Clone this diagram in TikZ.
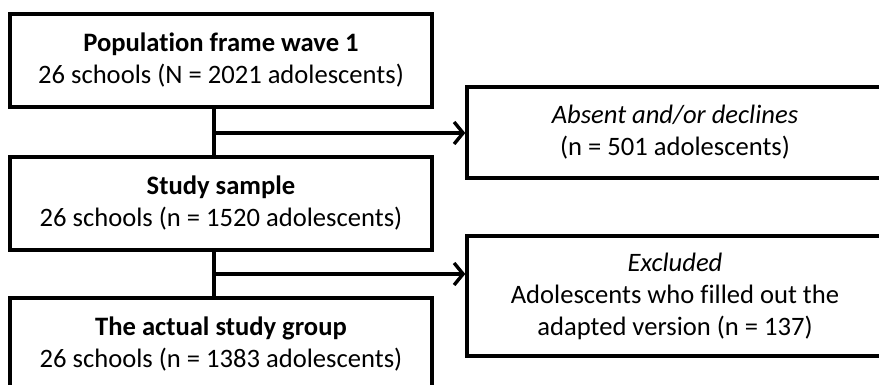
\documentclass[tikz,border=0pt]{standalone}
\usepackage{fontspec}
\setmainfont[RawFeature=-liga]{Carlito}
\usetikzlibrary{arrows.meta}
\begin{document}
\begin{tikzpicture}[x=1pt,y=-1pt,
  box/.style={draw, line width=3.4pt, rectangle, inner sep=0pt, align=center,
    font=\fontsize{26.6pt}{32pt}\selectfont},
  lbox/.style={box, minimum width=422pt, minimum height=93pt},
  conn/.style={line width=3.4pt},
  arr/.style={conn, -{Straight Barb[length=9pt,width=22pt]}}]
\useasboundingbox (0,0) rectangle (879,385);
\clip (0,0) rectangle (879,385);
\node[lbox] (pop) at (221,60.5) {\textbf{Population frame wave 1}\\26 schools (N = 2021 adolescents)};
\node[lbox] (study) at (221,203.5) {\textbf{Study sample}\\26 schools (n = 1520 adolescents)};
\node[lbox] (actual) at (221,344.5) {\textbf{The actual study group}\\26 schools (n = 1383 adolescents)};
\node[box, minimum width=416pt, minimum height=91pt] (absent) at (675,132.5) {\textit{Absent and/or declines}\\(n = 501 adolescents)};
\node[box, minimum width=416pt, minimum height=120pt] (excl) at (675,296) {\textit{Excluded}\\Adolescents who filled out the\\adapted version (n = 137)};
\coordinate (j1) at (214,133);
\coordinate (j2) at (214,274);
\draw[conn] (pop.south -| j1) -- (study.north -| j1);
\draw[arr] (j1) -- (j1 -| absent.west);
\draw[conn] (study.south -| j2) -- (actual.north -| j2);
\draw[arr] (j2) -- (j2 -| excl.west);
\end{tikzpicture}
\end{document}
